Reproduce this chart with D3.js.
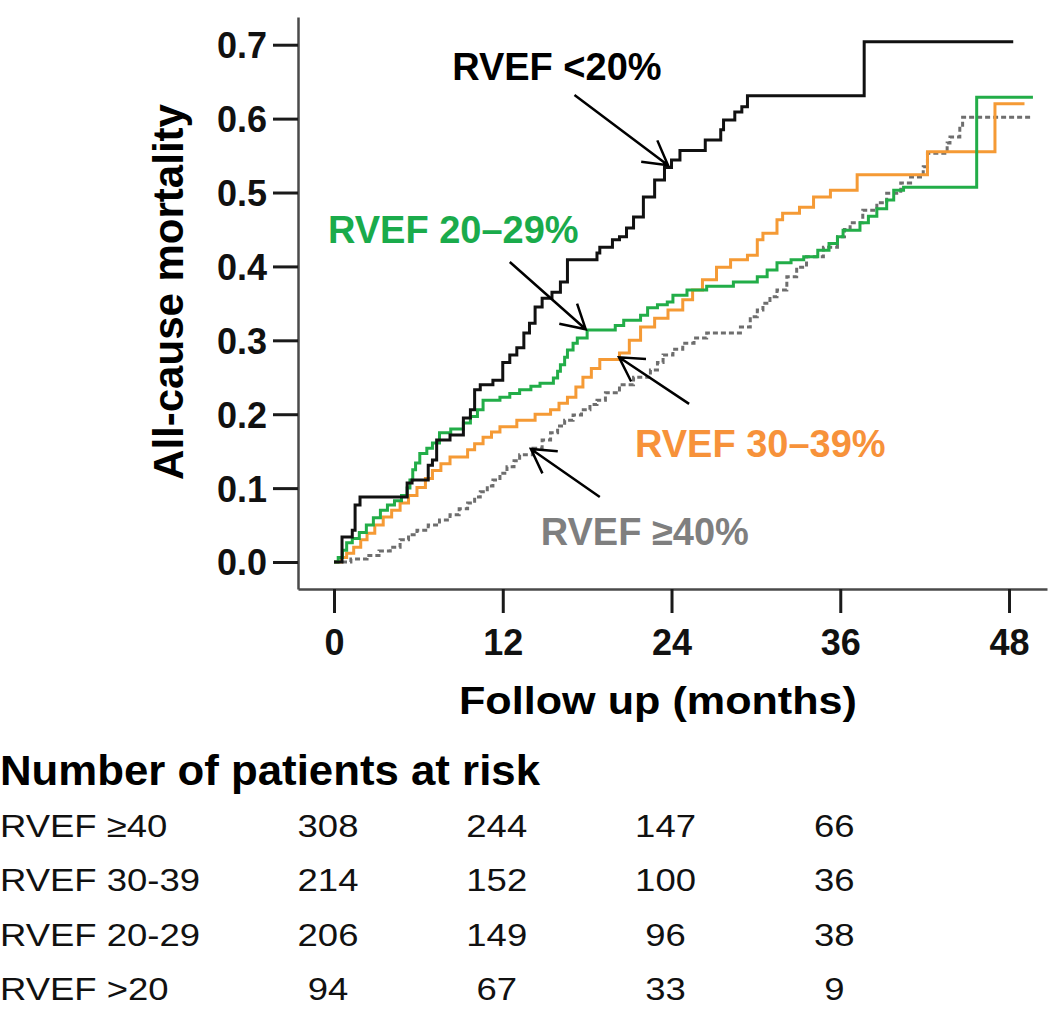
<!DOCTYPE html>
<html>
<head>
<meta charset="utf-8">
<script src="https://cdn.jsdelivr.net/npm/d3@7"></script>
<style>
  body { margin: 0; background: #fff; }
  svg { display: block; font-family: "Liberation Sans", Arial, sans-serif; }
</style>
</head>
<body>
<svg id="chart" width="1050" height="1009"></svg>
<script>
// tick values
const monthTicks = [0, 12, 24, 36, 48];
const mortalityTicks = [0, 0.1, 0.2, 0.3, 0.4, 0.5, 0.6, 0.7];

// cumulative mortality, [month, value] step points
const rvefBelow20 = [[0,0],[0.57,0.034],[1.3,0.043],[1.5,0.077],[1.85,0.088],[5.2,0.107],[5.55,0.111],[6.7,0.131],[7.0,0.138],[7.3,0.165],[8.25,0.172],[9.2,0.195],[9.7,0.206],[10.0,0.233],[10.4,0.24],[11.3,0.246],[12.0,0.27],[12.5,0.28],[13.0,0.29],[13.5,0.31],[13.9,0.323],[14.3,0.345],[14.8,0.357],[15.5,0.365],[16.1,0.379],[16.6,0.409],[18.7,0.418],[18.9,0.426],[19.8,0.436],[20.3,0.44],[20.8,0.452],[21.3,0.467],[22.0,0.494],[22.8,0.517],[23.5,0.534],[24.0,0.544],[24.6,0.557],[26.4,0.571],[27.5,0.585],[27.7,0.598],[28.5,0.609],[29.0,0.616],[29.4,0.631],[37.7,0.704],[48.3,0.704]];

const rvef20to29 = [[0,0],[0.3,0.006],[0.6,0.016],[0.9,0.026],[1.3,0.032],[1.8,0.04],[2.3,0.05],[2.8,0.06],[3.3,0.07],[3.8,0.077],[4.3,0.083],[4.8,0.09],[5.2,0.1],[5.4,0.111],[5.6,0.125],[5.8,0.134],[6.1,0.147],[6.6,0.154],[7.0,0.161],[7.5,0.175],[8.3,0.18],[9.2,0.188],[9.7,0.197],[10.2,0.206],[10.6,0.219],[11.8,0.223],[12.5,0.228],[13.2,0.233],[14.0,0.238],[14.65,0.242],[15.6,0.249],[15.9,0.258],[16.1,0.267],[16.4,0.277],[16.6,0.287],[17.0,0.296],[17.3,0.303],[18.0,0.314],[20.0,0.32],[20.6,0.327],[21.8,0.334],[22.3,0.344],[23.0,0.348],[23.7,0.352],[24.1,0.361],[25.1,0.368],[26.5,0.373],[28.4,0.379],[30.1,0.386],[30.8,0.395],[31.5,0.405],[32.5,0.409],[33.4,0.413],[34.4,0.422],[35.2,0.431],[35.8,0.44],[36.2,0.449],[37.4,0.459],[38.0,0.468],[38.6,0.478],[39.3,0.49],[39.8,0.503],[40.5,0.507],[45.7,0.629],[49.7,0.629]];

const rvef30to39 = [[0,0],[0.5,0.006],[0.9,0.012],[1.4,0.02],[1.9,0.03],[2.35,0.039],[2.9,0.05],[3.5,0.061],[4.1,0.07],[4.7,0.08],[5.3,0.09],[5.9,0.101],[6.5,0.113],[7.0,0.124],[7.6,0.133],[8.25,0.142],[9.5,0.152],[10.0,0.16],[10.6,0.169],[11.2,0.176],[11.8,0.183],[13.0,0.192],[14.3,0.2],[15.4,0.206],[16.0,0.215],[16.6,0.223],[17.2,0.237],[17.7,0.25],[18.3,0.262],[18.9,0.274],[20.3,0.283],[21.0,0.3],[21.8,0.318],[22.8,0.33],[23.75,0.341],[24.8,0.355],[25.5,0.368],[26.2,0.382],[27.2,0.399],[28.2,0.409],[29.4,0.415],[30.1,0.436],[30.5,0.445],[31.5,0.463],[31.9,0.472],[33.1,0.48],[34.1,0.494],[35.3,0.503],[37.2,0.524],[42.2,0.555],[47.0,0.62],[49.1,0.62]];

const rvef40plus = [[0,0],[1.2,0.004],[2.35,0.009],[3.2,0.015],[4.0,0.02],[4.7,0.03],[5.3,0.037],[5.9,0.043],[6.7,0.05],[7.5,0.057],[8.25,0.064],[8.9,0.072],[9.5,0.08],[10.0,0.088],[10.4,0.095],[10.9,0.103],[11.3,0.111],[11.8,0.12],[12.3,0.129],[12.8,0.137],[13.2,0.145],[14.15,0.154],[14.8,0.165],[15.4,0.175],[15.9,0.184],[16.4,0.192],[17.0,0.199],[17.6,0.206],[18.2,0.213],[18.7,0.219],[19.3,0.229],[20.3,0.24],[21.3,0.25],[22.5,0.26],[23.0,0.27],[23.4,0.28],[24.1,0.288],[24.8,0.296],[25.6,0.303],[26.5,0.31],[28.9,0.318],[29.6,0.332],[30.1,0.341],[30.5,0.35],[31.0,0.359],[31.5,0.368],[32.2,0.386],[32.9,0.399],[33.6,0.413],[34.8,0.426],[35.8,0.44],[36.3,0.45],[36.7,0.459],[37.6,0.476],[38.6,0.486],[39.3,0.499],[40.3,0.513],[41.0,0.521],[41.9,0.535],[42.2,0.553],[43.6,0.567],[43.8,0.575],[44.5,0.589],[44.7,0.602],[49.7,0.602]];

// number at risk table
const riskMonths = [0, 12, 24, 36];
const riskGroups = ["RVEF \u226540", "RVEF 30-39", "RVEF 20-29", "RVEF >20"];
const riskCounts = [
  [308, 244, 147, 66],
  [214, 152, 100, 36],
  [206, 149, 96, 38],
  [94, 67, 33, 9]
];

const svg = d3.select("#chart");

const x = d3.scaleLinear().domain([-2.56, 50.7]).range([298, 1047]);
const y = d3.scaleLinear().domain([-0.0365, 0.7375]).range([589, 17]);

// axes
const xAxis = svg.append("g")
  .attr("transform", "translate(0,589)")
  .call(d3.axisBottom(x).tickValues(monthTicks).tickSize(24).tickSizeOuter(0));
const yAxis = svg.append("g")
  .attr("transform", "translate(298,0)")
  .call(d3.axisLeft(y).tickValues(mortalityTicks).tickSize(25).tickSizeOuter(0).tickFormat(d3.format(".1f")));

[xAxis, yAxis].forEach(g => {
  g.select(".domain").attr("stroke", "#4a4a4a").attr("stroke-width", 2.5);
  g.selectAll(".tick line").attr("stroke", "#1a1a1a").attr("stroke-width", 3);
  g.selectAll(".tick text")
    .attr("fill", "#111")
    .style("font-size", "36px")
    .style("font-weight", "bold")
    .style("font-family", "'Liberation Sans', Arial, sans-serif");
});
xAxis.selectAll(".tick text").attr("y", 66).attr("dy", 0);
yAxis.selectAll(".tick text").attr("x", -31).attr("dy", "0.36em");

// axis titles
svg.append("text")
  .attr("transform", "translate(183,292) rotate(-90)")
  .attr("text-anchor", "middle")
  .style("font-size", "42px")
  .style("font-weight", "bold")
  .text("All-cause mortality");

svg.append("text")
  .attr("x", 658)
  .attr("y", 714)
  .attr("text-anchor", "middle")
  .attr("textLength", 398)
  .attr("lengthAdjust", "spacingAndGlyphs")
  .style("font-size", "39px")
  .style("font-weight", "bold")
  .text("Follow up (months)");

// curves
const line = d3.line()
  .x(d => x(d[0]))
  .y(d => y(d[1]))
  .curve(d3.curveStepAfter);

const series = [
  { data: rvef40plus, color: "#6e6e6e", dash: "5,3" },
  { data: rvef30to39, color: "#f59a35", dash: null },
  { data: rvef20to29, color: "#22ad48", dash: null },
  { data: rvefBelow20, color: "#111111", dash: null }
];

svg.append("g")
  .attr("fill", "none")
  .attr("stroke-width", 3)
  .selectAll("path")
  .data(series)
  .join("path")
  .attr("stroke", d => d.color)
  .attr("stroke-dasharray", d => d.dash)
  .attr("d", d => line(d.data));

// annotations (positions in data units)
const labels = [
  { text: "RVEF <20%", color: "#000000", at: [8.4, 0.652], from: [17.1, 0.632], to: [23.75, 0.537] },
  { text: "RVEF 20\u201329%", color: "#1aab4b", at: [-0.43, 0.432], from: [12.5, 0.406], to: [17.9, 0.315] },
  { text: "RVEF 30\u201339%", color: "#f7923a", at: [21.4, 0.142], from: [25.25, 0.214], to: [20.27, 0.277] },
  { text: "RVEF \u226540%", color: "#7f7f7f", at: [14.7, 0.023], from: [18.9, 0.088], to: [14.0, 0.153] }
];

svg.append("g")
  .selectAll("text")
  .data(labels)
  .join("text")
  .attr("x", d => x(d.at[0]))
  .attr("y", d => y(d.at[1]))
  .attr("fill", d => d.color)
  .style("font-size", "38px")
  .style("font-weight", "bold")
  .text(d => d.text);

function arrowPath(d) {
  const x1 = x(d.from[0]), y1 = y(d.from[1]);
  const x2 = x(d.to[0]), y2 = y(d.to[1]);
  const a = Math.atan2(y1 - y2, x1 - x2);
  const len = 27, spread = 0.52;
  const p = d3.path();
  p.moveTo(x1, y1);
  p.lineTo(x2, y2);
  p.moveTo(x2 + len * Math.cos(a + spread), y2 + len * Math.sin(a + spread));
  p.lineTo(x2, y2);
  p.lineTo(x2 + len * Math.cos(a - spread), y2 + len * Math.sin(a - spread));
  return p.toString();
}

svg.append("g")
  .attr("fill", "none")
  .attr("stroke", "#000")
  .attr("stroke-width", 2.5)
  .selectAll("path")
  .data(labels)
  .join("path")
  .attr("d", arrowPath);

// number at risk
svg.append("text")
  .attr("x", 0)
  .attr("y", 785)
  .attr("textLength", 540)
  .attr("lengthAdjust", "spacingAndGlyphs")
  .style("font-size", "42px")
  .style("font-weight", "bold")
  .text("Number of patients at risk");

const rowY = d3.scalePoint().domain(riskGroups).range([837, 1000]);

const rows = svg.append("g")
  .style("font-size", "32px")
  .attr("fill", "#111")
  .selectAll("g")
  .data(riskGroups)
  .join("g");

rows.append("text")
  .attr("transform", d => `translate(0,${rowY(d)}) scale(1.14,1)`)
  .text(d => d);

rows.selectAll("text.count")
  .data((d, i) => riskCounts[i].map((c, j) => ({ c, m: riskMonths[j], g: d })))
  .join("text")
  .attr("class", "count")
  .attr("text-anchor", "middle")
  .attr("transform", d => `translate(${x(d.m) - 6},${rowY(d.g)}) scale(1.14,1)`)
  .text(d => d.c);
</script>
</body>
</html>
